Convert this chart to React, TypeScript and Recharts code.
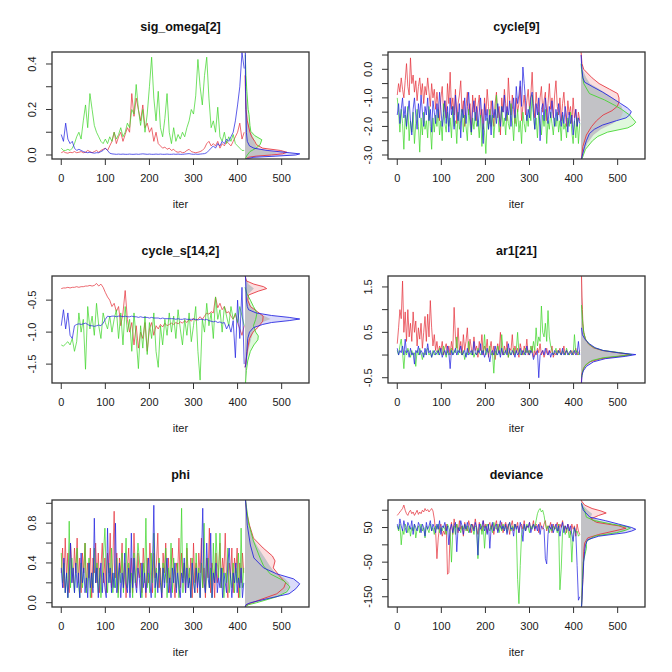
import React from 'react';
import { ComposedChart, Line, Area, XAxis, YAxis } from 'recharts';

const FONT = "'Liberation Sans', Arial, Helvetica, sans-serif";
const ITERS_5 = Array.from({ length: 84 }, (_, i) => i * 5);
const ITERS_3 = Array.from({ length: 139 }, (_, i) => i * 3);
const DENS_BASE = 417;
const X_DOMAIN: [number, number] = [-21, 562];
const X_TICKS = [0, 100, 200, 300, 400, 500];

const RED = '#E5303A';
const GREEN = '#3FD62A';
const BLUE = '#2020E0';
const GRAY = '#C2C2C6';

// ---------------- sig_omega[2] (every 5th iteration) ----------------
const SIG_TICKS = [0, 0.1, 0.2, 0.3, 0.4];
const SIG_LABELS = ['0.0', '', '0.2', '', '0.4'];
const SIG_RED = [0.01,0.015,0.01,0.008,0.012,0.01,0.015,0.01,0.012,0.015,
 0.01,0.012,0.02,0.015,0.01,0.015,0.02,0.012,0.02,0.025,
 0.03,0.02,0.04,0.06,0.1,0.05,0.08,0.1,0.06,0.09,
 0.12,0.1,0.27,0.17,0.25,0.2,0.15,0.22,0.12,0.14,
 0.1,0.12,0.06,0.1,0.05,0.04,0.03,0.035,0.025,0.03,
 0.02,0.025,0.015,0.012,0.015,0.01,0.012,0.02,0.025,0.015,
 0.012,0.01,0.012,0.015,0.02,0.03,0.05,0.06,0.04,0.05,
 0.04,0.06,0.03,0.05,0.04,0.06,0.05,0.04,0.06,0.08,
 0.1,0.14,0.07,0.1];
const SIG_GREEN = [0.03,0.02,0.02,0.025,0.02,0.03,0.05,0.08,0.1,0.07,
 0.15,0.22,0.12,0.27,0.2,0.13,0.1,0.08,0.06,0.05,
 0.07,0.05,0.08,0.06,0.1,0.07,0.09,0.12,0.08,0.1,
 0.14,0.12,0.2,0.18,0.31,0.2,0.13,0.2,0.1,0.18,
 0.3,0.43,0.25,0.15,0.28,0.12,0.08,0.16,0.27,0.1,
 0.05,0.12,0.06,0.09,0.07,0.1,0.08,0.12,0.15,0.2,
 0.18,0.26,0.42,0.3,0.22,0.35,0.43,0.25,0.12,0.15,
 0.1,0.21,0.08,0.06,0.1,0.05,0.08,0.06,0.09,0.05,
 0.04,0.03,0.02,0.02];
const SIG_BLUE = [0.09,0.06,0.14,0.07,0.05,0.06,0.03,0.02,0.025,0.02,
 0.015,0.012,0.01,0.012,0.01,0.008,0.01,0.01,0.015,0.02,
 0.03,0.02,0.008,0.005,0.004,0.003,0.004,0.003,0.004,0.003,
 0.003,0.004,0.003,0.003,0.004,0.003,0.004,0.005,0.004,0.003,
 0.004,0.003,0.003,0.004,0.003,0.004,0.003,0.003,0.004,0.003,
 0.003,0.004,0.003,0.004,0.003,0.003,0.004,0.005,0.006,0.004,
 0.003,0.004,0.003,0.004,0.005,0.006,0.01,0.02,0.03,0.04,
 0.03,0.05,0.04,0.06,0.05,0.07,0.06,0.08,0.1,0.15,
 0.22,0.3,0.45,0.38];
const SIG_DEN_RED_V = [-0.018,-0.01,-0.005,0.0,0.005,0.012,0.02,0.03,0.045,0.06,0.08,0.1,0.15,0.2,0.27,0.35];
const SIG_DEN_RED_D = [1,8,25,60,85,95,80,40,26,22,15,11,5,2,1,0];
const SIG_DEN_GREEN_V = [-0.018,-0.01,0.0,0.015,0.03,0.045,0.067,0.085,0.104,0.13,0.177,0.2,0.28,0.35,0.44];
const SIG_DEN_GREEN_D = [0.5,2,5,11,25,34,38,22,13,11,9,7,4,2,0.5];
const SIG_DEN_BLUE_V = [-0.018,-0.01,-0.005,0.0,0.005,0.01,0.02,0.03,0.04,0.06,0.1,0.2,0.3,0.45];
const SIG_DEN_BLUE_D = [2,20,70,115,124,100,50,20,10,5,3,2,1,0.5];
const SIG_DEN_GRAY_V = [-0.018,-0.01,-0.005,0.0,0.005,0.012,0.02,0.03,0.05,0.07,0.1,0.15,0.25,0.45];
const SIG_DEN_GRAY_D = [1,10,32,60,72,68,45,27,22,20,13,6,2,0.5];

// ---------------- cycle[9] (every 3rd iteration) ----------------
const CYC_TICKS = [-3, -2.5, -2, -1.5, -1, -0.5, 0, 0.5];
const CYC_LABELS = ['-3.0', '', '-2.0', '', '-1.0', '', '0.0', ''];
const CYC_RED = [-0.9,-0.5,-0.8,-0.3,-0.7,-1.0,-0.4,0.2,-0.6,-0.9,
 0.4,-0.5,-0.2,-0.8,-0.4,-1.1,-0.6,-0.3,-0.9,-0.5,
 -1.2,-0.6,-0.9,-0.3,-0.8,-1.3,-0.5,-1.0,-0.7,-1.4,
 -0.8,-1.3,-1.8,-1.0,-0.6,-1.5,-1.1,-1.7,-0.5,-1.2,
 -0.1,-1.4,-1.0,-1.6,-0.7,-1.9,-1.2,-0.9,-0.4,-1.5,
 -1.1,-2.0,-1.3,-0.8,-1.6,-1.2,-2.2,-0.9,-1.5,-1.0,
 -1.8,-1.3,-0.9,-1.7,-1.4,-2.1,-1.0,-1.6,-0.7,-1.3,
 -1.9,-1.1,-1.5,-2.0,-1.2,-0.8,-1.7,-1.3,-2.3,-1.0,
 -1.5,-0.7,-1.2,-1.8,-0.3,-1.1,-1.6,-0.9,-1.4,-1.9,
 -1.0,-1.5,-1.2,-0.6,-1.8,-1.3,-0.9,-1.6,-1.1,-0.7,
 -1.4,-0.9,-0.1,-1.2,-1.7,-0.8,-1.3,-1.6,-1.0,-0.6,
 -1.5,-1.1,-0.8,-1.8,-1.2,-0.5,-1.4,-1.0,-1.7,-0.9,
 -0.4,-1.3,-1.6,-1.0,-1.8,-1.2,-0.8,-1.5,-2.0,-1.1,
 -1.6,-1.3,-1.9,-1.0,-1.7,-1.4,-2.0,-1.5,-1.8];
const CYC_GREEN = [-1.0,-1.5,-2.2,-1.4,-1.9,-2.8,-1.6,-2.1,-1.3,-2.5,
 -1.8,-2.2,-1.5,-2.6,-1.9,-1.4,-2.0,-2.9,-1.7,-2.3,
 -1.5,-2.1,-1.8,-2.4,-1.3,-2.0,-2.8,-1.7,-2.2,-1.6,
 -2.0,-1.4,-2.3,-1.8,-2.5,-1.2,-1.9,-2.2,-1.5,-2.0,
 -1.7,-2.4,-1.3,-2.0,-1.8,-2.6,-1.5,-2.1,-1.8,-1.4,
 -2.2,-1.6,-2.0,-2.5,-1.4,-1.9,-2.3,-1.7,-2.1,-1.5,
 -2.0,-1.8,-2.4,-1.6,-2.7,-1.9,-2.2,-2.95,-1.7,-2.1,
 -1.4,-2.0,-1.6,-2.4,-1.8,-0.9,-1.5,-2.2,-1.9,-1.3,
 -2.0,-1.7,-2.3,-1.5,-1.9,-2.1,-1.2,-1.8,-2.5,-1.6,
 -2.0,-1.4,-2.2,-1.8,-2.6,-1.5,-1.9,-2.2,-1.6,-2.0,
 -1.3,-1.8,-0.9,-1.6,-2.1,-1.7,-2.4,-1.5,-1.9,-2.3,
 -1.6,-2.0,-1.4,-2.6,-1.8,-2.1,-1.5,-1.9,-2.3,-1.7,
 -2.0,-1.5,-2.2,-1.8,-2.5,-1.6,-2.1,-1.9,-2.4,-1.7,
 -2.0,-1.5,-2.2,-2.6,-1.8,-2.4,-1.7,-2.6,-1.9];
const CYC_BLUE = [-1.6,-1.2,-1.9,-1.4,-1.0,-1.7,-1.3,-2.0,-1.5,-1.1,
 -1.8,-2.3,-1.4,-1.0,-1.6,-2.1,-1.2,-1.7,-0.9,-1.5,
 -2.0,-1.3,-1.6,-1.0,-1.8,-1.4,-2.2,-1.1,-1.5,-1.9,
 -1.2,-1.7,-0.8,-1.4,-2.0,-1.6,-1.1,-1.9,-1.3,-2.2,
 -1.0,-1.6,-1.3,-2.1,-0.9,-1.5,-1.8,-1.2,-2.4,-1.4,
 -1.7,-1.0,-1.9,-1.3,-0.8,-1.6,-2.2,-1.4,-1.1,-1.8,
 -1.3,-2.0,-1.5,-1.0,-1.7,-2.6,-1.2,-1.8,-1.4,-2.1,
 -1.6,-2.3,-1.1,-1.7,-1.4,-1.9,-1.2,-1.6,-2.0,-1.3,
 -1.5,-0.9,-1.8,-1.3,-1.6,-1.1,-2.0,-1.4,-1.0,-1.7,
 -0.6,-1.2,-0.9,-0.4,-1.3,0.08,-0.5,-1.1,-1.8,-1.4,
 -1.7,-1.0,-0.8,-1.5,-2.1,-1.2,-1.6,-1.0,-2.5,-1.4,
 -1.2,-1.8,-1.0,-1.5,-1.9,-1.3,-1.7,-1.1,-1.6,-2.0,
 -1.4,-1.8,-1.2,-1.6,-2.0,-1.5,-1.9,-1.3,-1.7,-2.2,
 -1.5,-1.9,-1.6,-2.3,-1.8,-1.4,-2.0,-1.7,-1.9];
const CYC_DEN_RED_V = [0.6,0.2,0.0,-0.3,-0.5,-0.7,-0.85,-1.0,-1.15,-1.3,-1.45,-1.6,-1.8,-2.0,-2.3,-2.7,-3.14];
const CYC_DEN_RED_D = [0,2,6,25,41,65,83,86,86,82,70,50,35,24,12,4,1];
const CYC_DEN_GREEN_V = [0.2,0.0,-0.5,-0.85,-1.07,-1.25,-1.4,-1.6,-1.85,-1.95,-2.05,-2.2,-2.35,-2.5,-2.8,-3.14];
const CYC_DEN_GREEN_D = [0,1,6,19,53,75,92,110,124,118,106,60,38,26,10,2];
const CYC_DEN_BLUE_V = [0.5,0.2,0.0,-0.3,-0.45,-0.6,-0.8,-1.0,-1.2,-1.35,-1.48,-1.6,-1.7,-1.8,-1.95,-2.1,-2.25,-2.5,-2.7,-3.0,-3.14];
const CYC_DEN_BLUE_D = [0,1,2,4,8,25,49,70,90,105,114,110,102,80,49,30,19,12,8,3,1];
const CYC_DEN_GRAY_V = [0.5,0.0,-0.3,-0.5,-0.7,-0.9,-1.1,-1.3,-1.5,-1.7,-1.9,-2.1,-2.3,-2.6,-3.0,-3.14];
const CYC_DEN_GRAY_D = [0,3,12,20,42,62,80,92,95,90,72,45,28,14,4,1];

// ---------------- cycle_s[14,2] (every 5th iteration) ----------------
const CS_TICKS = [-1.5, -1, -0.5];
const CS_LABELS = ['-1.5', '-1.0', '-0.5'];
const CS_RED = [-0.32,-0.31,-0.31,-0.30,-0.31,-0.30,-0.30,-0.29,-0.30,-0.29,
 -0.29,-0.28,-0.28,-0.27,-0.28,-0.27,-0.24,-0.28,-0.25,-0.30,
 -0.38,-0.45,-0.5,-0.6,-0.55,-0.68,-0.6,-0.9,-0.7,-0.35,
 -0.8,-1.0,-0.85,-1.2,-0.9,-1.25,-1.0,-1.1,-0.85,-1.3,
 -0.95,-0.85,-1.05,-0.9,-0.95,-0.88,-0.92,-0.86,-0.9,-0.88,
 -0.86,-0.88,-0.85,-0.87,-0.84,-0.86,-0.82,-0.85,-0.8,-0.83,
 -0.78,-0.82,-0.8,-0.76,-0.8,-0.75,-0.7,-0.72,-0.68,-0.7,
 -0.45,-0.62,-0.55,-0.65,-0.6,-0.7,-0.68,-0.75,-0.8,-0.72,
 -0.85,-0.95,-1.05,-0.9];
const CS_GREEN = [-1.2,-1.22,-1.18,-1.15,-1.2,-1.1,-1.3,-1.15,-0.7,-1.0,
 -0.8,-1.58,-0.6,-0.95,-0.75,-1.05,-0.55,-0.9,-1.1,-0.7,
 -0.85,-0.95,-0.75,-1.0,-0.8,-0.65,-1.1,-0.7,-1.2,-0.6,
 -1.0,-0.8,-1.3,-0.7,-1.1,-1.57,-0.9,-1.25,-0.75,-1.35,
 -0.85,-1.1,-0.7,-1.3,-1.55,-0.9,-1.2,-0.8,-1.05,-0.7,
 -1.0,-0.75,-1.1,-0.65,-0.95,-1.2,-0.8,-1.05,-0.7,-1.15,
 -0.9,-0.6,-1.3,-1.75,-0.8,-1.0,-0.55,-0.9,-0.7,-1.1,
 -0.45,-0.8,-0.65,-1.0,-0.6,-0.75,-0.9,-0.6,-0.8,-0.7,
 -0.85,-0.6,-0.75,-0.9];
const CS_BLUE = [-0.9,-0.65,-0.95,-0.7,-1.05,-1.1,-0.9,-0.88,-0.87,-0.88,
 -0.87,-0.86,-0.88,-0.9,-0.9,-0.91,-0.9,-0.89,-0.9,-0.86,
 -0.8,-0.75,-0.76,-0.75,-0.75,-0.76,-0.75,-0.75,-0.76,-0.75,
 -0.76,-0.76,-0.75,-0.76,-0.76,-0.77,-0.76,-0.77,-0.77,-0.77,
 -0.78,-0.77,-0.78,-0.78,-0.78,-0.79,-0.78,-0.79,-0.79,-0.79,
 -0.79,-0.79,-0.8,-0.79,-0.8,-0.8,-0.79,-0.8,-0.8,-0.8,
 -0.8,-0.8,-0.81,-0.8,-0.8,-0.81,-0.8,-0.82,-0.83,-0.84,
 -0.83,-0.85,-0.84,-0.86,-0.85,-0.95,-0.88,-1.0,-0.82,-1.4,
 -0.5,-1.1,-0.3,-1.5];
const CS_DEN_RED_V = [-0.123,-0.2,-0.25,-0.29,-0.32,-0.36,-0.42,-0.5,-0.6,-0.68,-0.75,-0.83,-0.92,-1.0,-1.1,-1.25,-1.4,-1.55];
const CS_DEN_RED_D = [0,3,20,42,49,30,8,6,12,28,41,40,30,18,10,6,3,0];
const CS_DEN_GREEN_V = [-0.3,-0.4,-0.5,-0.6,-0.7,-0.8,-0.9,-1.0,-1.06,-1.12,-1.2,-1.3,-1.45,-1.6,-1.795];
const CS_DEN_GREEN_D = [0,4,12,19,27,24,19,24,30,29,20,12,6,3,1];
const CS_DEN_BLUE_V = [-0.123,-0.5,-0.6,-0.65,-0.7,-0.74,-0.77,-0.795,-0.82,-0.85,-0.88,-0.93,-1.0,-1.1,-1.3,-1.5,-1.55];
const CS_DEN_BLUE_D = [1,3,5,8,25,60,100,124,100,60,40,19,10,6,4,2,0];
const CS_DEN_GRAY_V = [-0.123,-0.25,-0.32,-0.4,-0.5,-0.6,-0.7,-0.75,-0.795,-0.84,-0.9,-1.0,-1.1,-1.3,-1.5,-1.795];
const CS_DEN_GRAY_D = [0,8,20,8,8,13,27,45,58,40,25,18,14,7,3,0.5];

// ---------------- ar1[21] (every 3rd iteration) ----------------
const AR_TICKS = [-0.5, 0, 0.5, 1, 1.5];
const AR_LABELS = ['-0.5', '', '0.5', '', '1.5'];
const AR_RED = [0.25,0.6,1.0,0.8,1.63,0.5,0.95,0.3,1.0,0.4,
 0.7,0.3,0.95,0.5,0.75,0.2,0.6,0.35,0.7,0.15,
 0.5,0.85,0.3,0.9,0.4,1.2,0.6,0.2,0.45,0.1,
 0.3,0.05,0.2,0.1,0.3,0.0,0.15,0.25,0.05,0.2,
 0.0,0.3,0.1,1.05,0.4,0.15,0.6,0.1,0.3,0.0,
 0.45,0.1,0.3,0.6,0.05,0.35,0.15,0.0,0.4,0.1,
 0.2,-0.05,0.3,0.1,0.45,0.0,0.2,0.1,0.35,-0.05,
 0.15,0.3,0.0,0.2,-0.1,0.1,0.25,0.05,0.5,0.1,
 0.0,0.2,0.05,0.3,-0.05,0.15,0.1,0.45,0.0,0.2,
 0.05,0.15,-0.05,0.25,0.1,0.0,0.2,0.05,0.35,0.0,
 0.1,0.05,0.2,-0.05,0.1,0.0,0.15,0.05,0.25,0.0,
 0.1,-0.05,0.05,0.15,0.0,0.1,0.05,0.2,-0.05,0.05,
 0.0,0.1,0.05,0.15,0.0,0.05,0.2,0.0,0.1,0.05,
 0.0,0.05,0.1,0.0,0.05,0.15,0.0,0.05,0.1];
const AR_GREEN = [0.1,0.0,0.2,0.35,0.05,-0.3,0.1,0.0,0.15,0.05,
 -0.05,0.1,0.0,0.05,-0.25,0.1,0.0,0.15,0.05,-0.1,
 0.05,0.0,0.1,0.15,0.0,0.05,-0.05,0.1,0.0,0.05,
 0.1,0.0,0.15,0.05,0.0,0.2,0.05,-0.05,0.1,0.0,
 0.05,0.15,0.0,0.1,0.05,0.4,0.0,0.1,0.05,0.0,
 0.1,-0.1,0.05,0.0,0.3,0.05,0.0,0.1,-0.05,0.05,
 0.0,0.15,0.05,0.0,0.1,0.05,0.45,0.0,0.1,0.05,
 0.2,0.0,0.05,-0.4,0.1,0.0,0.2,0.05,0.0,0.45,
 0.1,0.0,0.05,0.15,-0.05,0.1,0.0,0.05,0.15,0.0,
 0.1,0.5,0.05,0.0,0.1,0.05,0.0,0.15,0.05,0.1,
 0.0,0.2,0.05,0.3,0.1,0.6,0.2,0.4,0.3,1.08,
 0.5,0.4,0.7,0.3,0.98,0.4,0.2,0.1,0.0,0.05,
 0.15,0.0,0.1,0.05,0.0,0.1,0.05,0.0,0.15,0.05,
 0.0,0.1,0.05,0.0,0.45,0.05,0.1,0.0,0.05];
const AR_BLUE = [0.15,0.0,0.1,0.05,0.2,0.0,0.35,0.05,0.1,-0.05,
 0.15,0.0,0.05,-0.2,0.1,0.05,0.2,0.0,0.1,0.05,
 -0.05,0.15,0.0,0.25,0.05,0.1,-0.05,0.05,0.1,0.0,
 0.05,0.1,0.0,0.15,-0.05,0.05,0.1,0.0,0.2,0.05,
 -0.3,0.1,0.0,0.05,0.15,0.0,0.1,0.05,0.2,0.0,
 0.05,0.1,-0.05,0.15,0.0,0.05,0.1,0.0,0.3,0.05,
 0.0,0.1,0.05,0.25,0.0,0.1,-0.05,0.05,0.15,0.0,
 -0.15,0.05,0.1,0.0,0.2,0.05,0.0,0.1,-0.05,0.15,
 0.0,0.05,0.1,0.0,0.25,0.05,0.0,0.1,0.05,-0.05,
 0.1,0.0,0.05,0.15,0.0,0.1,0.05,0.0,0.2,0.05,
 0.0,0.1,0.05,-0.1,0.0,0.05,0.1,-0.5,0.0,0.05,
 0.1,0.0,0.15,0.05,0.0,0.1,-0.05,0.05,0.0,0.1,
 0.05,0.0,0.1,0.05,0.0,0.15,0.0,0.05,0.1,0.0,
 0.05,0.1,0.0,0.05,0.1,0.0,0.05,0.3,0.0];
const AR_DEN_RED_V = [-0.616,-0.4,-0.25,-0.15,-0.08,-0.03,0.01,0.05,0.1,0.16,0.24,0.35,0.5,0.7,1.0,1.3,1.74];
const AR_DEN_RED_D = [0.5,2,8,20,45,85,112,85,48,28,17,10,6,4,3,2,1];
const AR_DEN_GREEN_V = [-0.5,-0.3,-0.2,-0.12,-0.06,-0.02,0.01,0.05,0.1,0.16,0.24,0.35,0.5,0.8,1.1];
const AR_DEN_GREEN_D = [1,5,12,25,50,90,115,90,50,30,18,10,6,3,1];
const AR_DEN_BLUE_V = [-0.616,-0.45,-0.35,-0.25,-0.15,-0.08,-0.03,0.01,0.05,0.1,0.16,0.24,0.3,0.36,0.45,0.6];
const AR_DEN_BLUE_D = [1,2,5,12,28,55,100,124,85,50,32,20,13,8,3,1];
const AR_DEN_GRAY_V = [-0.616,-0.4,-0.3,-0.2,-0.12,-0.06,-0.02,0.01,0.04,0.08,0.12,0.18,0.24,0.32,0.5,1.0,1.74];
const AR_DEN_GRAY_D = [0.5,2,5,12,25,50,90,112,95,60,40,26,18,10,5,2,0.5];

// ---------------- phi (every 3rd iteration) ----------------
const PHI_TICKS = [0, 0.2, 0.4, 0.6, 0.8, 1.0];
const PHI_LABELS = ['0.0', '', '0.4', '', '0.8', ''];
const PHI_RED = [0.3,0.55,0.15,0.65,0.25,0.5,0.1,0.6,0.35,0.2,
 0.55,0.3,0.65,0.2,0.45,0.1,0.5,0.3,0.6,0.15,
 0.4,0.25,0.55,0.05,0.45,0.3,0.6,0.2,0.5,0.1,
 0.35,0.6,0.2,0.45,0.1,0.5,0.3,0.7,0.15,0.4,
 0.92,0.25,0.5,0.1,0.45,0.3,0.6,0.15,0.4,0.05,
 0.35,0.55,0.2,0.45,0.1,0.7,0.3,0.15,0.5,0.25,
 0.4,0.1,0.55,0.3,0.05,0.45,0.2,0.6,0.35,0.1,
 0.5,0.25,0.4,0.7,0.15,0.35,0.05,0.5,0.3,0.6,
 0.2,0.45,0.1,0.35,0.55,0.25,0.05,0.4,0.3,0.65,
 0.15,0.5,0.25,0.4,0.1,0.55,0.3,0.2,0.45,0.05,
 0.6,0.2,0.4,0.1,0.5,0.3,0.65,0.15,0.35,0.05,
 0.45,0.25,0.75,0.1,0.4,0.3,0.05,0.5,0.2,0.35,
 0.6,0.15,0.45,0.3,0.7,0.2,0.05,0.4,0.25,0.55,
 0.1,0.45,0.3,0.55,0.05,0.4,0.2,0.5,0.3];
const PHI_GREEN = [0.5,0.2,0.4,0.1,0.3,0.05,0.82,0.15,0.45,0.25,
 0.1,0.35,0.55,0.2,0.05,0.4,0.15,0.3,0.6,0.1,
 0.25,0.45,0.05,0.3,0.15,0.55,0.2,0.4,0.1,0.35,
 0.05,0.25,0.5,0.75,0.3,0.1,0.4,0.2,0.55,0.1,
 0.3,0.15,0.45,0.05,0.35,0.2,0.5,0.1,0.3,0.65,
 0.15,0.4,0.1,0.3,0.05,0.5,0.2,0.35,0.6,0.45,
 0.25,0.05,0.4,0.2,0.85,0.15,0.3,0.1,0.5,0.2,
 0.7,0.05,0.35,0.15,0.45,0.25,0.1,0.4,0.2,0.55,
 0.05,0.35,0.2,0.6,0.1,0.45,0.25,0.15,0.4,0.05,
 0.3,0.95,0.1,0.4,0.2,0.6,0.15,0.35,0.05,0.45,
 0.25,0.1,0.5,0.2,0.35,0.05,0.4,0.15,0.8,0.1,
 0.3,0.45,0.15,0.35,0.05,0.6,0.2,0.7,0.4,0.25,
 0.7,0.15,0.35,0.05,0.3,0.2,0.55,0.1,0.3,0.15,
 0.4,0.1,0.35,0.2,0.5,0.05,0.75,0.15,0.35];
const PHI_BLUE = [0.35,0.15,0.45,0.1,0.3,0.05,0.25,0.6,0.2,0.35,
 0.1,0.4,0.15,0.3,0.05,0.5,0.2,0.35,0.1,0.25,
 0.05,0.4,0.15,0.3,0.1,0.85,0.2,0.35,0.05,0.25,
 0.4,0.1,0.3,0.15,0.05,0.75,0.2,0.35,0.1,0.3,
 0.15,0.8,0.1,0.25,0.4,0.05,0.3,0.15,0.5,0.2,
 0.1,0.35,0.05,0.7,0.15,0.45,0.2,0.1,0.35,0.25,
 0.05,0.4,0.15,0.3,0.1,0.25,0.45,0.2,0.05,0.35,
 0.98,0.15,0.3,0.1,0.4,0.2,0.05,0.35,0.15,0.3,
 0.45,0.1,0.25,0.05,0.35,0.2,0.4,0.1,0.3,0.15,
 0.05,0.3,0.2,0.45,0.1,0.35,0.15,0.25,0.05,0.4,
 0.2,0.1,0.35,0.15,0.3,0.05,0.45,0.95,0.2,0.1,
 0.6,0.25,0.15,0.7,0.05,0.3,0.2,0.4,0.1,0.25,
 0.15,0.35,0.05,0.3,0.2,0.1,0.4,0.55,0.25,0.05,
 0.3,0.2,0.4,0.1,0.25,0.15,0.35,0.05,0.2];
const PHI_DEN_RED_V = [-0.043,-0.02,0.03,0.09,0.15,0.2,0.27,0.35,0.42,0.47,0.55,0.65,0.78,0.9,1.033];
const PHI_DEN_RED_D = [0,4,34,72,88,92,78,64,68,62,41,19,10,4,1];
const PHI_DEN_GREEN_V = [-0.043,-0.02,0.0,0.06,0.11,0.16,0.22,0.29,0.37,0.45,0.62,0.8,1.033];
const PHI_DEN_GREEN_D = [0,8,26,72,95,102,88,57,42,34,19,8,1];
const PHI_DEN_BLUE_V = [-0.043,-0.02,0.0,0.04,0.09,0.14,0.19,0.24,0.29,0.35,0.45,0.58,0.78,0.92,1.033];
const PHI_DEN_BLUE_D = [0,2,12,50,100,115,124,110,72,42,20,12,5,3,1];
const PHI_DEN_GRAY_V = [-0.043,-0.02,0.0,0.05,0.1,0.15,0.2,0.25,0.3,0.38,0.45,0.55,0.65,0.8,1.033];
const PHI_DEN_GRAY_D = [0,4,20,60,88,100,100,88,68,55,45,30,17,7,1];

// ---------------- deviance (every 3rd iteration) ----------------
const DEV_TICKS = [-150, -100, -50, 0, 50, 100];
const DEV_LABELS = ['-150', '', '-50', '', '50', ''];
const DEV_RED = [85,90,95,100,105,115,100,90,85,95,
 100,90,95,85,92,100,88,95,90,100,
 95,105,98,102,95,100,105,98,75,40,
 -40,20,50,60,25,40,30,60,-85,-80,
 40,65,30,75,50,60,35,70,45,55,
 25,65,50,40,70,55,35,60,45,75,
 50,30,65,55,40,70,50,60,35,55,
 65,45,60,30,55,70,40,60,50,65,
 35,55,65,45,60,30,55,70,40,60,
 50,65,35,55,60,45,70,40,55,50,
 65,45,50,70,40,60,55,35,65,50,
 45,60,70,40,55,50,65,35,60,45,
 55,65,40,60,50,70,45,55,35,60,
 50,30,60,45,55,25,60,40,30];
const DEV_GREEN = [55,40,60,0,45,30,60,50,35,55,
 25,50,40,60,20,45,55,35,60,40,
 50,20,55,45,35,60,40,50,30,55,
 45,60,35,50,40,55,45,30,60,50,
 35,-50,40,55,30,60,45,50,35,55,
 45,60,40,55,35,50,60,45,30,55,
 50,-40,40,60,30,55,-10,45,60,50,
 40,55,35,65,50,45,60,35,55,40,
 60,45,55,35,50,65,40,55,45,60,
 50,-100,-170,-60,30,45,55,40,60,50,
 35,55,45,60,50,70,90,100,105,95,
 100,85,60,45,55,35,50,40,55,45,
 50,35,60,-130,-70,40,55,30,45,50,
 20,40,-50,30,50,35,40,25,30];
const DEV_BLUE = [60,45,75,55,40,70,50,35,65,55,
 45,70,30,60,50,40,65,55,35,60,
 50,25,65,45,55,70,40,60,50,35,
 60,45,70,30,55,50,65,40,55,0,
 45,60,35,55,65,-20,50,40,70,55,
 30,60,45,65,50,35,60,55,40,65,
 50,-30,60,45,55,70,40,55,30,60,
 -10,50,65,40,55,60,35,50,70,45,
 55,40,60,30,55,65,45,50,25,60,
 45,55,35,65,50,10,60,40,55,50,
 65,35,50,60,45,55,40,60,30,55,
 50,45,-40,-55,30,55,45,60,35,50,
 60,40,55,25,50,65,35,55,45,60,
 40,55,30,10,50,35,-60,-160,-150];
const DEV_DEN_RED_V = [130,125,115,105,98,92,85,75,65,55,48,40,30,20,5,-20,-60,-100,-150,-180];
const DEV_DEN_RED_D = [0,2,8,25,45,57,40,22,35,85,102,75,40,15,8,6,5,4,2,1];
const DEV_DEN_GREEN_V = [120,110,100,80,70,60,52,48,42,35,25,10,0,-10,-50,-100,-150,-180];
const DEV_DEN_GREEN_D = [1,3,8,12,30,70,105,112,100,80,30,12,12,12,5,3,2,1];
const DEV_DEN_BLUE_V = [120,100,80,70,60,50,45,40,35,25,15,0,-20,-50,-100,-160,-180];
const DEV_DEN_BLUE_D = [1,5,20,55,85,115,124,115,100,40,15,10,8,6,4,2,1];
const DEV_DEN_GRAY_V = [130,115,100,90,80,70,60,50,45,40,35,25,10,0,-50,-100,-150,-180];
const DEV_DEN_GRAY_D = [0,4,15,25,22,40,70,100,108,100,82,35,12,9,5,3,2,1];

type Dens = { v: number[]; d: number[] };
type PanelCfg = {
  title: string;
  domain: [number, number];
  ticks: number[];
  labels: string[];
  iters: number[];
  red: number[];
  green: number[];
  blue: number[];
  dRed: Dens;
  dGreen: Dens;
  dBlue: Dens;
  dGray: Dens;
};

const PANELS: { cfg: PanelCfg; left: number; top: number }[] = [
  { left: 0, top: 0, cfg: { title: 'sig_omega[2]', domain: [-0.0176, 0.4527], ticks: SIG_TICKS, labels: SIG_LABELS, iters: ITERS_5, red: SIG_RED, green: SIG_GREEN, blue: SIG_BLUE,
    dRed: { v: SIG_DEN_RED_V, d: SIG_DEN_RED_D }, dGreen: { v: SIG_DEN_GREEN_V, d: SIG_DEN_GREEN_D }, dBlue: { v: SIG_DEN_BLUE_V, d: SIG_DEN_BLUE_D }, dGray: { v: SIG_DEN_GRAY_V, d: SIG_DEN_GRAY_D } } },
  { left: 336, top: 0, cfg: { title: 'cycle[9]', domain: [-3.14, 0.606], ticks: CYC_TICKS, labels: CYC_LABELS, iters: ITERS_3, red: CYC_RED, green: CYC_GREEN, blue: CYC_BLUE,
    dRed: { v: CYC_DEN_RED_V, d: CYC_DEN_RED_D }, dGreen: { v: CYC_DEN_GREEN_V, d: CYC_DEN_GREEN_D }, dBlue: { v: CYC_DEN_BLUE_V, d: CYC_DEN_BLUE_D }, dGray: { v: CYC_DEN_GRAY_V, d: CYC_DEN_GRAY_D } } },
  { left: 0, top: 224, cfg: { title: 'cycle_s[14,2]', domain: [-1.795, -0.123], ticks: CS_TICKS, labels: CS_LABELS, iters: ITERS_5, red: CS_RED, green: CS_GREEN, blue: CS_BLUE,
    dRed: { v: CS_DEN_RED_V, d: CS_DEN_RED_D }, dGreen: { v: CS_DEN_GREEN_V, d: CS_DEN_GREEN_D }, dBlue: { v: CS_DEN_BLUE_V, d: CS_DEN_BLUE_D }, dGray: { v: CS_DEN_GRAY_V, d: CS_DEN_GRAY_D } } },
  { left: 336, top: 224, cfg: { title: 'ar1[21]', domain: [-0.616, 1.741], ticks: AR_TICKS, labels: AR_LABELS, iters: ITERS_3, red: AR_RED, green: AR_GREEN, blue: AR_BLUE,
    dRed: { v: AR_DEN_RED_V, d: AR_DEN_RED_D }, dGreen: { v: AR_DEN_GREEN_V, d: AR_DEN_GREEN_D }, dBlue: { v: AR_DEN_BLUE_V, d: AR_DEN_BLUE_D }, dGray: { v: AR_DEN_GRAY_V, d: AR_DEN_GRAY_D } } },
  { left: 0, top: 448, cfg: { title: 'phi', domain: [-0.043, 1.033], ticks: PHI_TICKS, labels: PHI_LABELS, iters: ITERS_3, red: PHI_RED, green: PHI_GREEN, blue: PHI_BLUE,
    dRed: { v: PHI_DEN_RED_V, d: PHI_DEN_RED_D }, dGreen: { v: PHI_DEN_GREEN_V, d: PHI_DEN_GREEN_D }, dBlue: { v: PHI_DEN_BLUE_V, d: PHI_DEN_BLUE_D }, dGray: { v: PHI_DEN_GRAY_V, d: PHI_DEN_GRAY_D } } },
  { left: 336, top: 448, cfg: { title: 'deviance', domain: [-179.6, 129.6], ticks: DEV_TICKS, labels: DEV_LABELS, iters: ITERS_3, red: DEV_RED, green: DEV_GREEN, blue: DEV_BLUE,
    dRed: { v: DEV_DEN_RED_V, d: DEV_DEN_RED_D }, dGreen: { v: DEV_DEN_GREEN_V, d: DEV_DEN_GREEN_D }, dBlue: { v: DEV_DEN_BLUE_V, d: DEV_DEN_BLUE_D }, dGray: { v: DEV_DEN_GRAY_V, d: DEV_DEN_GRAY_D } } },
];

const toTrace = (vals: number[], iters: number[]) => vals.map((v, i) => ({ it: iters[i], v }));
const toDens = (den: Dens) => den.v.map((v, i) => ({ v, dx: DENS_BASE + den.d[i] }));

function Panel({ cfg, left, top }: { cfg: PanelCfg; left: number; top: number }) {
  const yTick = (p: any) => {
    const idx = cfg.ticks.indexOf(p.payload.value);
    const lab = idx >= 0 ? cfg.labels[idx] : '';
    if (!lab) return <g />;
    const cx = 32;
    const cy = p.y;
    return (
      <text x={cx} y={cy} transform={`rotate(-90 ${cx} ${cy})`} textAnchor="middle" dominantBaseline="central" fontSize={11} fill="#1a1a1a" fontFamily={FONT}>
        {lab}
      </text>
    );
  };
  const chains: [number[], string][] = [[cfg.red, RED], [cfg.green, GREEN], [cfg.blue, BLUE]];
  const dens: [Dens, string][] = [[cfg.dRed, RED], [cfg.dGreen, GREEN], [cfg.dBlue, BLUE]];
  return (
    <div style={{ position: 'absolute', left, top, width: 336, height: 224 }}>
      <div style={{ position: 'absolute', left: 52, top: 19, width: 257, textAlign: 'center', fontFamily: FONT, fontWeight: 'bold', fontSize: 12.5, lineHeight: '16px', color: '#111' }}>{cfg.title}</div>
      <ComposedChart width={336} height={224} layout="vertical" margin={{ top: 52, right: 27, bottom: 35, left: 12 }}>
        <XAxis type="number" domain={X_DOMAIN} ticks={X_TICKS} allowDataOverflow interval={0} axisLine={false} tickLine={{ stroke: '#333' }} tickSize={6} tickMargin={9} height={30}
          tick={{ fontSize: 11, fill: '#1a1a1a', fontFamily: FONT }} />
        <YAxis type="number" dataKey="v" domain={cfg.domain} ticks={cfg.ticks} allowDataOverflow reversed interval={0} axisLine={false} tickLine={{ stroke: '#333' }} tickSize={6} width={40} tick={yTick} />
        {chains.map(([vals, col], k) => (
          <Line key={'t' + k} data={toTrace(vals, cfg.iters)} dataKey="it" stroke={col} strokeOpacity={0.72} strokeWidth={1} dot={false} activeDot={false} isAnimationActive={false} type="linear" />
        ))}
        {dens.map(([d, col], k) => (
          <Area key={'f' + k} data={toDens(d)} dataKey="dx" baseValue={DENS_BASE} stroke="none" fill={col} fillOpacity={0.16} isAnimationActive={false} type="linear" dot={false} activeDot={false} />
        ))}
        <Area data={toDens(cfg.dGray)} dataKey="dx" baseValue={DENS_BASE} stroke="none" fill={GRAY} fillOpacity={1} isAnimationActive={false} type="linear" dot={false} activeDot={false} />
        {dens.map(([d, col], k) => (
          <Area key={'o' + k} data={toDens(d)} dataKey="dx" baseValue={DENS_BASE} stroke={col} strokeOpacity={0.85} strokeWidth={1} fill="none" isAnimationActive={false} type="linear" dot={false} activeDot={false} />
        ))}
      </ComposedChart>
      <svg width={336} height={224} style={{ position: 'absolute', left: 0, top: 0, pointerEvents: 'none' }}>
        <rect x={52} y={52} width={257} height={107} fill="none" stroke="#333" strokeWidth={1.3} />
      </svg>
      <div style={{ position: 'absolute', left: 52, top: 197, width: 257, textAlign: 'center', fontFamily: FONT, fontSize: 11, lineHeight: '14px', color: '#1a1a1a' }}>iter</div>
    </div>
  );
}

export default function App() {
  return (
    <div style={{ position: 'absolute', left: 0, top: 0, width: 672, height: 672, background: '#fff' }}>
      {PANELS.map((p, i) => (
        <Panel key={i} cfg={p.cfg} left={p.left} top={p.top} />
      ))}
    </div>
  );
}
